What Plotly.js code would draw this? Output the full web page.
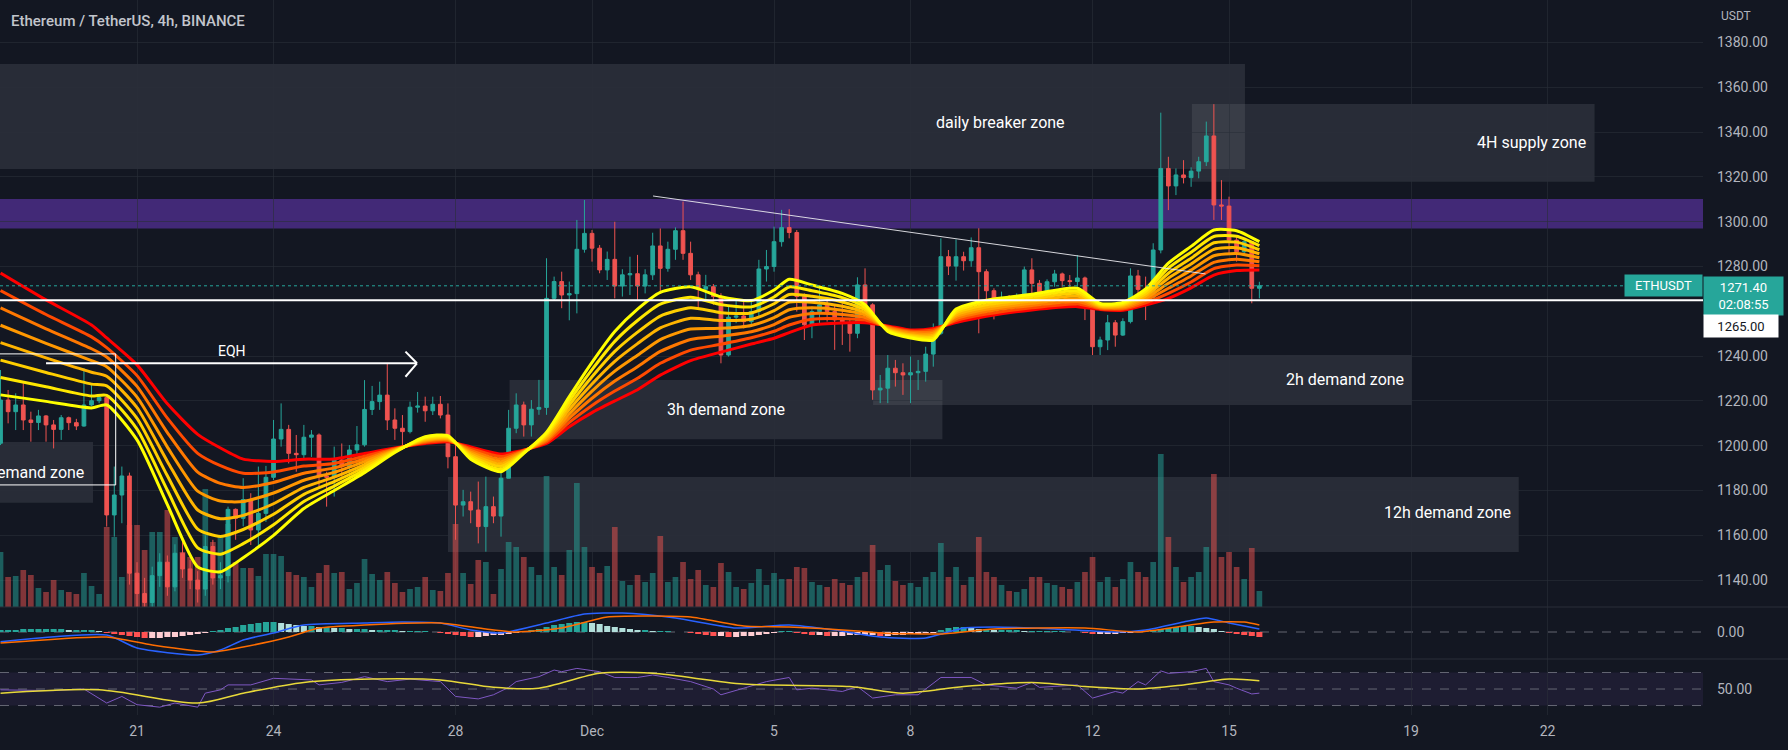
<!DOCTYPE html>
<html>
<head>
<meta charset="utf-8">
<script src="https://cdn.plot.ly/plotly-3.0.1.min.js"></script>
<style>
  html, body { margin: 0; padding: 0; background: #131722; }
  #chart { width: 1788px; height: 750px; }
</style>
</head>
<body>
<div id="chart"></div>
<script>
// ETHUSDT 4h, Binance. First bar = 18 Nov 2022 00:00, last bar = 15 Dec 16:00
var firstBar = Date.UTC(2022, 10, 18, 0, 0);
var barMs = 4 * 3600 * 1000;

var opens = [
  1201.1,1220.4,1215.2,1218.2,1211.5,1210.4,1213.3,1209.3,1207.3,1212.5,
  1210.3,1208.8,1218.2,1220.1,1221.5,1169.1,1178.0,1186.5,1143.1,1134,
  1130,1142,1148,1137,1152,1145,1140,1136,1155,1141,
  1142,1171.6,1167.6,1176,1162.4,1169.8,1185.9,1203,1207.3,1196.6,
  1196,1203.8,1204.8,1186.5,1185.9,1193.6,1190.7,1198.1,1200.4,1216.2,
  1219.7,1222.6,1211.5,1207.8,1206.3,1217.2,1217.7,1215.6,1218.5,1213.7,
  1195.1,1173.5,1175,1171.3,1163.9,1172.8,1168.6,1185.5,1207.8,1218.2,
  1209.3,1216.3,1217.1,1265.8,1273.3,1267.3,1267.9,1287.7,1294.8,1288.2,
  1278.5,1283.2,1271.3,1276.3,1276.8,1271.3,1276.3,1289.2,1279.2,1287.7,
  1296,1285.9,1276.3,1269.9,1271,1266.6,1240.5,1257.4,1257.9,1255.4,
  1259.9,1278.9,1280,1291.1,1297.4,1295.2,1266.6,1254,1259.9,1262.9,
  1259.9,1256.2,1254.7,1250.2,1271.8,1262.9,1224.9,1225.7,1234.6,1232.6,
  1231.6,1232.6,1233.2,1240.9,1250.2,1284.4,1280.2,1284.4,1282.6,1288.4,
  1277.7,1269.2,1263.6,1265.5,1265.1,1266.8,1278.5,1272.5,1266.6,1273.2,
  1276.7,1273.7,1273.3,1274.9,1263.6,1244.2,1247.2,1254.9,1249.4,1255.4,
  1275.8,1269.8,1266.2,1287.4,1323.8,1316,1320.9,1319.7,1322.6,1326.8,
  1338.3,1307.5,1307,1291.8,1286.6,1291.1,1270.3
];
var highs = [
  1233.8,1224.9,1223.4,1227.9,1215.2,1216.0,1213.7,1211.5,1213.7,1213.0,
  1212.0,1234.6,1227.1,1222.7,1222.0,1190.7,1190.7,1188.0,1148,1141,
  1146,1152,1151,1156,1157,1149,1144,1160,1158,1148,
  1172.8,1172,1185.5,1178.8,1190.7,1191,1211.5,1218.9,1209.3,1204.8,
  1209.3,1207,1205.5,1188.4,1199.6,1201,1200.3,1208.8,1229.3,1226.7,
  1228.6,1236.5,1216.7,1213.7,1219.7,1224,1221.9,1221.9,1222.2,1218.9,
  1202.6,1180.3,1179.5,1184,1186.2,1177.3,1190.7,1216,1223.4,1219.7,
  1220.4,1229.4,1283.7,1275.5,1277.7,1273.3,1300.8,1309.7,1296.3,1289.6,
  1286.7,1300,1278.8,1284.4,1285.2,1278.8,1295.1,1297,1291.1,1297.5,
  1309,1291.1,1277.7,1276.3,1272.2,1268.1,1262.9,1265.1,1264.4,1264.4,
  1283,1287.4,1297.8,1305.3,1305.6,1296.3,1268,1262.1,1270.7,1265.1,
  1262.9,1263.6,1256.9,1275.2,1279.2,1263.6,1231.6,1240.5,1238.3,1236.8,
  1239.8,1238.3,1244.2,1254.6,1292.6,1287.4,1292.1,1286.6,1293,1297.1,
  1278.8,1270.3,1268.8,1267.3,1268,1280,1283.7,1274,1274.3,1278.5,
  1277.3,1276.2,1285.1,1275.5,1264.3,1248.7,1258.4,1256.1,1256.9,1279.2,
  1278.5,1275.5,1290.4,1348.7,1329,1323.8,1327.5,1324.3,1329,1344.7,
  1352.5,1318.6,1311.2,1293.3,1292.2,1291.5,1273.2
];
var lows = [
  1200.3,1210.0,1207.0,1207.0,1201.8,1207.0,1201.8,1198.8,1202.6,1207.0,
  1207.0,1208.5,1217.5,1219.0,1163.9,1159.4,1165.4,1138.0,1128,1127,
  1128,1137,1133,1135,1141,1136,1130,1133,1138,1136,
  1139,1158,1164,1155.7,1155,1166,1184.7,1199.6,1192.1,1188.4,
  1193.6,1195,1181.7,1172.8,1177.3,1186.2,1184.7,1195.9,1199.6,1213.7,
  1216,1207,1202.6,1198.1,1205.5,1214.8,1210.7,1213.7,1212.2,1189.9,
  1158,1168.4,1165.4,1156.4,1152.7,1165.4,1159.4,1185.5,1205.6,1204.1,
  1204.1,1213.8,1213.8,1265,1261.4,1256,1259.1,1286.2,1282.2,1277,
  1274,1265.8,1266.6,1267.3,1265,1268,1274,1268,1277.7,1283,
  1283,1274,1261.4,1265.1,1262.9,1236.8,1239.8,1254.7,1252.4,1253.2,
  1257.6,1273.3,1277.7,1288.9,1292.6,1259.9,1247.2,1248,1254.7,1255.4,
  1242.8,1245,1242,1248,1261.4,1220.5,1219,1219,1226.4,1222.7,
  1219,1224.9,1228.6,1235.3,1249.4,1276.2,1273.7,1278.2,1279.9,1250.2,
  1265,1256.4,1261.3,1261.3,1260.6,1264.3,1265.8,1263.6,1265.8,1271,
  1271,1270.7,1271,1256.1,1240.5,1240.5,1242.7,1244.2,1249,1254.6,
  1266.5,1256.1,1265.1,1285.9,1305.2,1311.9,1317.1,1315.6,1319.4,1324.9,
  1300.8,1300.8,1285.9,1282.2,1285.1,1263.6,1265.8
];
var closes = [
  1220.4,1215.2,1218.2,1211.5,1210.4,1213.3,1209.3,1207.3,1212.5,1210.3,
  1208.8,1218.2,1220.1,1221.5,1169.1,1178.0,1186.5,1143.1,1134.0,1130,
  1142,1148,1137,1152,1145,1140,1136,1155,1141,1142,
  1171.6,1167.6,1176,1162.4,1169.8,1185.9,1203,1207.3,1196.6,1196,
  1203.8,1204.8,1186.5,1185.9,1193.6,1190.7,1198.1,1200.4,1216.2,1219.7,
  1222.6,1211.5,1207.8,1206.3,1217.2,1217.7,1215.6,1218.5,1213.7,1195.1,
  1173.5,1175,1171.3,1163.9,1172.8,1168.6,1185.5,1207.8,1218.2,1209.3,
  1216.3,1217.1,1265.8,1273.3,1267.3,1267.9,1287.7,1294.8,1288.2,1278.5,
  1283.2,1271.3,1276.3,1276.8,1271.3,1276.3,1289.2,1279.2,1287.7,1296,
  1285.9,1276.3,1269.9,1271,1266.6,1240.5,1257.4,1257.9,1255.4,1259.9,
  1278.9,1280,1291.1,1297.4,1295.2,1266.6,1254,1259.9,1262.9,1259.9,
  1256.2,1254.7,1250.2,1271.8,1262.9,1224.9,1225.7,1234.6,1232.6,1231.6,
  1232.6,1233.2,1240.9,1250.2,1284.4,1280.2,1284.4,1282.6,1288.4,1277.7,
  1269.2,1263.6,1265.5,1265.1,1266.8,1278.5,1272.5,1266.6,1273.2,1276.7,
  1273.7,1273.3,1274.9,1263.6,1244.2,1247.2,1254.9,1249.4,1255.4,1275.8,
  1269.8,1266.2,1287.4,1323.8,1316,1320.9,1319.7,1322.6,1326.8,1338.3,
  1307.5,1307,1291.8,1286.6,1291.1,1270.3,1271.4
];
// volume, thousand ETH
var volumes = [
  55,30,31,37,32,19,15,27,17,15,13,34,21,13,80,70,30,82,82,
  57,75,75,97,70,55,50,50,118,65,70,
  83,45,39,39,31,53,53,51,35,32,30,20,34,42,34,35,18,24,48,33,27,35,24,15,18,20,30,17,16,34,83,
  34,23,47,45,13,38,65,60,50,40,32,
  131,40,32,57,124,60,40,34,41,80,26,22,32,25,34,71,
  25,30,45,28,37,22,20,44,35,20,18,24,38,22,34,28,28,40,39,25,22,
  20,28,24,22,30,35,62,37,42,26,22,24,20,30,35,64,30,40,22,30,
  70,35,30,22,16,15,18,30,30,24,22,20,18,25,35,50,25,30,20,28,
  45,35,30,45,153,70,40,25,30,35,60,133,50,55,40,28,59,16
];

// EMA ribbon, fast (yellow) to slow (red), read at these bar indices
var ribbonIdx = [0,6,12,14,18,22,26,29,32,36,40,44,48,52,56,59,62,66,69,72,75,78,81,84,87,91,95,99,102,104,
  107,111,114,117,120,123,126,130,136,142,145,148,151,154,157,160,163,166];
var ribbon1 = [1222.7,1219.8,1216.9,1218.2,1202.6,1173.7,1145.9,1143.7,1150.0,1160.0,1172.0,1180.0,1188.0,1197.0,1204.0,1204.5,1194.0,1188.4,1196.6,1206.0,1221.9,1237.2,1251.0,1261.0,1268.5,1271.0,1266.5,1264.8,1269.5,1274.3,1271.8,1268.0,1263.0,1251.0,1248.1,1247.2,1261.0,1265.0,1267.6,1270.3,1263.5,1264.0,1270.0,1281.5,1289.0,1296.3,1296.0,1291.1];
var ribbon2 = [1230.5,1226.3,1222.2,1222.5,1207.4,1180.1,1154.4,1151.6,1156.3,1164.7,1175.1,1182.0,1189.2,1197.3,1203.6,1204.1,1194.8,1189.5,1196.8,1205.3,1220.0,1234.0,1246.6,1255.9,1263.2,1266.3,1263.0,1262.0,1266.4,1270.9,1269.2,1266.1,1261.8,1251.4,1248.6,1247.9,1260.1,1264.0,1266.6,1269.1,1263.1,1263.5,1269.0,1279.3,1286.4,1293.4,1293.5,1289.3];
var ribbon3 = [1238.2,1232.7,1227.5,1226.7,1212.2,1186.6,1162.8,1159.5,1162.6,1169.4,1178.3,1184.0,1190.4,1197.6,1203.1,1203.7,1195.6,1190.7,1197.0,1204.6,1218.1,1230.8,1242.1,1250.7,1257.9,1261.6,1259.4,1259.3,1263.4,1267.5,1266.7,1264.2,1260.7,1251.7,1249.1,1248.7,1259.3,1262.9,1265.6,1268.0,1262.7,1263.0,1267.9,1277.0,1283.7,1290.6,1290.9,1287.5];
var ribbon4 = [1246.0,1239.2,1232.8,1231.0,1217.0,1193.0,1171.3,1167.4,1168.9,1174.1,1181.4,1186.0,1191.6,1197.9,1202.7,1203.3,1196.4,1191.8,1197.2,1203.9,1216.2,1227.6,1237.7,1245.6,1252.6,1256.9,1255.9,1256.5,1260.3,1264.1,1264.1,1262.3,1259.5,1252.1,1249.6,1249.4,1258.4,1261.9,1264.6,1266.8,1262.3,1262.5,1266.9,1274.8,1281.1,1287.7,1288.4,1285.7];
var ribbon5 = [1253.8,1245.7,1238.0,1235.3,1221.7,1199.4,1179.7,1175.3,1175.1,1178.9,1184.6,1188.1,1192.9,1198.1,1202.3,1203.0,1197.1,1192.9,1197.5,1203.1,1214.2,1224.4,1233.3,1240.4,1247.4,1252.1,1252.4,1253.7,1257.2,1260.7,1261.6,1260.5,1258.4,1252.4,1250.2,1250.2,1257.6,1260.9,1263.6,1265.6,1262.0,1262.0,1265.9,1272.5,1278.4,1284.8,1285.8,1283.9];
var ribbon6 = [1261.6,1252.2,1243.3,1239.6,1226.5,1205.9,1188.2,1183.2,1181.4,1183.6,1187.7,1190.1,1194.1,1198.4,1201.9,1202.6,1197.9,1194.0,1197.7,1202.4,1212.3,1221.2,1228.9,1235.3,1242.1,1247.4,1248.9,1250.9,1254.1,1257.3,1259.0,1258.6,1257.2,1252.8,1250.7,1250.9,1256.7,1259.9,1262.6,1264.4,1261.6,1261.5,1264.9,1270.3,1275.8,1281.9,1283.3,1282.1];
var ribbon7 = [1269.3,1258.6,1248.6,1243.8,1231.3,1212.3,1196.6,1191.1,1187.7,1188.3,1190.9,1192.1,1195.3,1198.7,1201.4,1202.2,1198.7,1195.2,1197.9,1201.7,1210.4,1218.0,1224.4,1230.1,1236.8,1242.7,1245.3,1248.2,1251.1,1253.9,1256.5,1256.7,1256.1,1253.1,1251.2,1251.7,1255.9,1258.8,1261.6,1263.3,1261.2,1261.0,1263.8,1268.0,1273.1,1279.1,1280.7,1280.3];
var ribbon8 = [1277.1,1265.1,1253.9,1248.1,1236.1,1218.7,1205.1,1199.0,1194.0,1193.0,1194.0,1194.1,1196.5,1199.0,1201.0,1201.8,1199.5,1196.3,1198.1,1201.0,1208.5,1214.8,1220.0,1225.0,1231.5,1238.0,1241.8,1245.4,1248.0,1250.5,1253.9,1254.8,1254.9,1253.5,1251.7,1252.4,1255.0,1257.8,1260.6,1262.1,1260.8,1260.5,1262.8,1265.8,1270.5,1276.2,1278.2,1278.5];

// MACD pane
var macdHist = [
  2,2,2,3,3,3,3,3,3,2,2,2,2,1,
  -1,-2,-3,-4,-5,-6,-6,-6,-5,-5,-4,-3,-2,-1,
  1,2,4,5,7,8,9,10,10,9,8,7,
  6,6,5,5,4,4,3,3,3,2,2,2,2,1,1,1,1,0,-1,
  -2,-3,-4,-5,-5,-4,-3,-3,-2,-1,
  1,2,3,5,7,8,9,10,10,9,8,6,5,4,3,
  2,2,1,1,1,0,0,
  -1,-2,-3,-4,-4,-5,-5,-4,-4,-3,-2,-1,
  1,1,
  -1,-2,-3,-3,-4,-4,-4,-3,-3,-3,-3,-4,-4,-3,-3,-2,-2,-1,-1,
  2,4,5,5,4,
  3,3,2,2,2,2,1,1,1,1,1,1,0,0,-1,
  -2,-2,-2,-2,-1,-1,0,
  1,2,3,4,5,6,6,5,4,3,
  1,-1,-2,-3,-4,-5
];
var macdIdx = [0,14,18,26,29,32,36,40,48,53,58,62,66,72,77,82,89,97,104,110,116,122,127,131,139,147,151,156,159,162,166];
var macdVals = [-9.7,-3,-16,-23,-18,-8,-1,7,9,10,9,2,-1,9,18,19,14,4,7,2,-5,-6,4,5,3,0,2,10,14,9,3];
var signalIdx = [0,14,20,28,32,38,42,48,58,64,68,74,80,85,91,98,104,113,116,124,131,143,150,156,160,164,166];
var signalVals = [-11,-5,-13,-20,-15,-5,4,7,9,3,0,4,15,16,15,6,5,1,-1,-2,3,4,0,6,10,10,7];

// RSI pane
var rsiIdx = [0,7,11,14,16,18,21,23,26,27,29,30,33,36,41,42,45,48,51,54,58,60,63,65,67,68,71,73,74,76,79,81,84,86,88,
  91,94,95,98,101,104,105,107,111,113,115,118,121,124,128,130,134,136,137,142,144,147,148,150,151,153,154,157,159,160,162,163,165,166];
var rsiVals = [49,48,50,33,41,31,28,33,28,45,49,55,55,63,61,55,58,65,59,62,59,41,38,43,52,59,65,73,71,75,71,64,64,67,64,
  59,50,43,51,59,64,49,51,47,53,39,43,43,64,64,55,51,58,52,55,39,47,45,59,55,72,69,71,75,59,55,51,44,45];
var rsiMaIdx = [0,13,26,32,40,49,58,65,71,79,86,98,112,119,127,136,143,150,156,162,166];
var rsiMaVals = [45,49,33,45,58,62,61,52,51,69,69,56,53,45,53,58,53,50,55,62,60];

// price tick labels and date tick labels
var priceTicks = [1140,1160,1180,1200,1220,1240,1280,1300,1320,1340,1360,1380];
var dateTicks = ['2022-11-21','2022-11-24','2022-11-28','2022-12-01','2022-12-05','2022-12-08','2022-12-12','2022-12-15','2022-12-19','2022-12-22'];
var dateLabels = ['21','24','28','Dec','5','8','12','15','19','22'];

// drawn zones
var zoneNames  = ['daily breaker zone','4H supply zone','3h demand zone','2h demand zone','12h demand zone','demand zone'];
var zoneStart  = ['2022-11-10','2022-12-14 04:24','2022-11-29 04:30','2022-12-07 04:15','2022-11-27 20:00','2022-11-10'];
var zoneEnd    = ['2022-12-15 08:24','2022-12-23 00:48','2022-12-08 16:48','2022-12-19 00:24','2022-12-21 08:48','2022-11-20 00:48'];
var zoneBottom = [1323.5,1317.9,1202.9,1218.2,1152.6,1174.5];
var zoneTop    = [1370.4,1352.6,1229.4,1240.5,1186.0,1201.7];
var purpleZone = [1297.0, 1310.2];
var keyLevel = 1265;
var eqhLevel = 1236.8;
var trendStart = ['2022-12-02 08:10', 1311.5];
var trendEnd = ['2022-12-14 11:36', 1276.7];

function barTime(i) { return firstBar + i * barMs; }
var times = opens.map(function (o, i) { return barTime(i); });
function pick(idx) { return idx.map(function (i) { return times[i]; }); }

var TEAL = '#26a69a', RED = '#ef5350';
var volColors = closes.map(function (c, i) {
  return c >= opens[i] ? 'rgba(38,166,154,0.5)' : 'rgba(239,83,80,0.5)';
});
var histColors = macdHist.map(function (v, i) {
  var prev = i > 0 ? macdHist[i - 1] : v;
  if (v >= 0) return v >= prev ? '#26a69a' : '#b2dfdb';
  return v < prev ? '#ff5252' : '#ffcdd2';
});

var traces = [];
traces.push({
  type: 'bar', x: times, y: volumes, xaxis: 'x', yaxis: 'y',
  marker: {color: volColors, line: {width: 0}}, width: barMs * 0.75, hoverinfo: 'skip'
});

var ribbons = [ribbon1, ribbon2, ribbon3, ribbon4, ribbon5, ribbon6, ribbon7, ribbon8];
var ribbonColors = ['#ffff00','#ffe800','#ffcf00','#ffb400','#ff9800','#ff7800','#ff4a00','#ff0000'];
for (var r = ribbons.length - 1; r >= 0; r--) {
  traces.push({
    type: 'scatter', mode: 'lines', x: pick(ribbonIdx), y: ribbons[r],
    xaxis: 'x', yaxis: 'y2', line: {color: ribbonColors[r], width: 3, shape: 'spline', smoothing: 0.6},
    hoverinfo: 'skip'
  });
}

traces.push({
  type: 'candlestick', x: times, open: opens, high: highs, low: lows, close: closes,
  xaxis: 'x', yaxis: 'y2', whiskerwidth: 0,
  increasing: {line: {color: TEAL, width: 1}, fillcolor: TEAL},
  decreasing: {line: {color: RED, width: 1}, fillcolor: RED},
  hoverinfo: 'skip'
});

traces.push({
  type: 'bar', x: times, y: macdHist, xaxis: 'x', yaxis: 'y3',
  marker: {color: histColors, line: {width: 0}}, width: barMs * 0.8, hoverinfo: 'skip'
});
traces.push({
  type: 'scatter', mode: 'lines', x: pick(macdIdx), y: macdVals, xaxis: 'x', yaxis: 'y3',
  line: {color: '#2962ff', width: 1.5, shape: 'spline', smoothing: 0.6}, hoverinfo: 'skip'
});
traces.push({
  type: 'scatter', mode: 'lines', x: pick(signalIdx), y: signalVals, xaxis: 'x', yaxis: 'y3',
  line: {color: '#ff6d00', width: 1.5, shape: 'spline', smoothing: 0.6}, hoverinfo: 'skip'
});

traces.push({
  type: 'scatter', mode: 'lines', x: pick(rsiIdx), y: rsiVals, xaxis: 'x', yaxis: 'y4',
  line: {color: '#7e57c2', width: 1}, hoverinfo: 'skip'
});
traces.push({
  type: 'scatter', mode: 'lines', x: pick(rsiMaIdx), y: rsiMaVals, xaxis: 'x', yaxis: 'y4',
  line: {color: '#e8d93a', width: 1.5, shape: 'spline', smoothing: 0.8}, hoverinfo: 'skip'
});

// pane layout: plot area is 715 px tall
var plotH = 715;
var priceLow = 1 - 607 / plotH;
var macdLow = 1 - 659 / plotH;
var GRID = 'rgba(42,46,57,0.6)';
var ZONE = 'rgba(120,123,134,0.22)';

var shapes = [];
for (var z = 0; z < zoneNames.length; z++) {
  shapes.push({type: 'rect', xref: 'x', yref: 'y2', x0: zoneStart[z], x1: zoneEnd[z],
    y0: zoneBottom[z], y1: zoneTop[z], fillcolor: ZONE, line: {width: 0}, layer: 'below'});
}
shapes.push({type: 'rect', xref: 'paper', yref: 'y2', x0: 0, x1: 1, y0: purpleZone[0], y1: purpleZone[1],
  fillcolor: 'rgba(99,53,177,0.6)', line: {width: 0}, layer: 'below'});
// white outlined box on the left
shapes.push({type: 'rect', xref: 'x', yref: 'y2', x0: '2022-11-10', x1: '2022-11-20 12:45',
  y0: 1182.5, y1: 1241.0, line: {color: '#ffffff', width: 1}, fillcolor: 'rgba(0,0,0,0)', layer: 'above'});
// EQH arrow
shapes.push({type: 'line', xref: 'x', yref: 'y2', x0: '2022-11-19 00:00', x1: '2022-11-27 03:40',
  y0: eqhLevel, y1: eqhLevel, line: {color: '#ffffff', width: 2}, layer: 'above'});
shapes.push({type: 'line', xref: 'x', yref: 'y2', x0: '2022-11-26 21:35', x1: '2022-11-27 03:40',
  y0: 1242.0, y1: eqhLevel, line: {color: '#ffffff', width: 2}, layer: 'above'});
shapes.push({type: 'line', xref: 'x', yref: 'y2', x0: '2022-11-26 21:35', x1: '2022-11-27 03:40',
  y0: 1230.8, y1: eqhLevel, line: {color: '#ffffff', width: 2}, layer: 'above'});
// trend line
shapes.push({type: 'line', xref: 'x', yref: 'y2', x0: trendStart[0], y0: trendStart[1], x1: trendEnd[0], y1: trendEnd[1],
  line: {color: 'rgba(235,235,240,0.9)', width: 1}, layer: 'above'});
// last price and key level
shapes.push({type: 'line', xref: 'paper', yref: 'y2', x0: 0, x1: 1, y0: closes[closes.length - 1], y1: closes[closes.length - 1],
  line: {color: TEAL, width: 1, dash: 'dot'}, layer: 'above'});
shapes.push({type: 'line', xref: 'paper', yref: 'y2', x0: 0, x1: 1, y0: keyLevel, y1: keyLevel,
  line: {color: '#ffffff', width: 2}, layer: 'above'});
// MACD zero, RSI bands
shapes.push({type: 'line', xref: 'paper', yref: 'y3', x0: 0, x1: 1, y0: 0, y1: 0,
  line: {color: 'rgba(120,123,134,0.8)', width: 1, dash: 'dash'}, layer: 'below'});
shapes.push({type: 'rect', xref: 'paper', yref: 'y4', x0: 0, x1: 1, y0: 30, y1: 70,
  fillcolor: 'rgba(126,87,194,0.1)', line: {width: 0}, layer: 'below'});
[70, 50, 30].forEach(function (lv) {
  shapes.push({type: 'line', xref: 'paper', yref: 'y4', x0: 0, x1: 1, y0: lv, y1: lv,
    line: {color: 'rgba(120,123,134,0.8)', width: 1, dash: 'dash'}, layer: 'below'});
});
// pane separators
[priceLow, macdLow].forEach(function (py) {
  shapes.push({type: 'line', xref: 'paper', yref: 'paper', x0: 0, x1: 1788 / 1703, y0: py, y1: py,
    line: {color: '#2a2e39', width: 1}, layer: 'above'});
});

var zoneFont = {family: 'Roboto, sans-serif', size: 16, color: '#ffffff'};
var annotations = [
  {xref: 'paper', yref: 'paper', x: 9 / 1703, y: 1 - 21 / plotH, xanchor: 'left', yanchor: 'middle',
   text: 'Ethereum / TetherUS, 4h, BINANCE', showarrow: false,
   font: {family: 'Roboto, sans-serif', size: 15, color: '#c2c5cc', weight: 500}},
  {xref: 'paper', yref: 'paper', x: 1 + 16 / 1703, y: 1 - 16 / plotH, xanchor: 'left', yanchor: 'middle',
   text: 'USDT', showarrow: false, font: {family: 'Roboto, sans-serif', size: 12, color: '#b2b5be'}},
  {xref: 'x', yref: 'y2', x: '2022-12-09 23:40', y: 1344.1, text: zoneNames[0], showarrow: false, font: zoneFont},
  {xref: 'x', yref: 'y2', x: '2022-12-22 21:20', y: 1335.2, xanchor: 'right', text: zoneNames[1], showarrow: false, font: zoneFont},
  {xref: 'x', yref: 'y2', x: '2022-12-03 22:40', y: 1216.4, text: zoneNames[2], showarrow: false, font: zoneFont},
  {xref: 'x', yref: 'y2', x: '2022-12-18 21:25', y: 1229.4, xanchor: 'right', text: zoneNames[3], showarrow: false, font: zoneFont},
  {xref: 'x', yref: 'y2', x: '2022-12-21 05:50', y: 1170.0, xanchor: 'right', text: zoneNames[4], showarrow: false, font: zoneFont},
  {xref: 'x', yref: 'y2', x: '2022-11-19 21:05', y: 1187.9, xanchor: 'right', text: zoneNames[5], showarrow: false, font: zoneFont},
  {xref: 'x', yref: 'y2', x: '2022-11-23 02:00', y: 1242.3, text: 'EQH', showarrow: false,
   font: {family: 'Roboto, sans-serif', size: 14, color: '#ffffff'}},
  // right axis labels
  {xref: 'paper', yref: 'y2', x: 1, y: closes[closes.length - 1], xanchor: 'right', yanchor: 'middle',
   text: 'ETHUSDT', showarrow: false, bgcolor: TEAL, width: 71, height: 15, borderpad: 3,
   font: {family: 'Roboto, sans-serif', size: 13, color: '#ffffff'}},
  {xref: 'paper', yref: 'y2', x: 1, y: closes[closes.length - 1], xanchor: 'left', yanchor: 'top', yshift: 10,
   text: closes[closes.length - 1].toFixed(2) + '<br>02:08:55', showarrow: false, bgcolor: TEAL,
   width: 73, height: 32, borderpad: 3, font: {family: 'Roboto, sans-serif', size: 13, color: '#ffffff'}},
  {xref: 'paper', yref: 'y2', x: 1, y: keyLevel, xanchor: 'left', yanchor: 'top', yshift: -14,
   text: keyLevel.toFixed(2), showarrow: false, bgcolor: '#ffffff', width: 68, height: 16, borderpad: 3,
   font: {family: 'Roboto, sans-serif', size: 13, color: '#131722'}}
];

var layout = {
  width: 1788, height: 750,
  paper_bgcolor: '#131722', plot_bgcolor: '#131722',
  margin: {l: 0, r: 85, t: 0, b: 35},
  showlegend: false,
  font: {family: 'Roboto, sans-serif', color: '#b2b5be', size: 13},
  xaxis: {
    type: 'date', range: [barTime(-0.07), barTime(224.5)], anchor: 'y4',
    tickvals: dateTicks, ticktext: dateLabels, showgrid: true, gridcolor: GRID, gridwidth: 1,
    zeroline: false, showline: false, ticks: '', ticklabelstandoff: 6,
    tickfont: {size: 14, color: '#b2b5be'}, rangeslider: {visible: false}, fixedrange: true
  },
  yaxis: {domain: [priceLow, 1], range: [0, 607], visible: false, fixedrange: true},
  yaxis2: {
    overlaying: 'y', side: 'right', anchor: 'x', range: [1128.0, 1399.0],
    tickvals: priceTicks, ticktext: priceTicks.map(function (v) { return v.toFixed(2); }),
    showgrid: true, gridcolor: GRID, zeroline: false, showline: false, ticks: '',
    ticklabelstandoff: 13, tickfont: {size: 14, color: '#b2b5be'}, fixedrange: true
  },
  yaxis3: {
    domain: [macdLow, priceLow], range: [-27, 25], side: 'right', anchor: 'x',
    tickvals: [0], ticktext: ['0.00'], showgrid: false, zeroline: false, showline: false, ticks: '',
    ticklabelstandoff: 13, tickfont: {size: 14, color: '#b2b5be'}, fixedrange: true
  },
  yaxis4: {
    domain: [0, macdLow], range: [18.5, 86.4], side: 'right', anchor: 'x',
    tickvals: [50], ticktext: ['50.00'], showgrid: false, zeroline: false, showline: false, ticks: '',
    ticklabelstandoff: 13, tickfont: {size: 14, color: '#b2b5be'}, fixedrange: true
  },
  shapes: shapes,
  annotations: annotations
};

Plotly.newPlot('chart', traces, layout, {displayModeBar: false, staticPlot: true});
</script>
</body>
</html>
